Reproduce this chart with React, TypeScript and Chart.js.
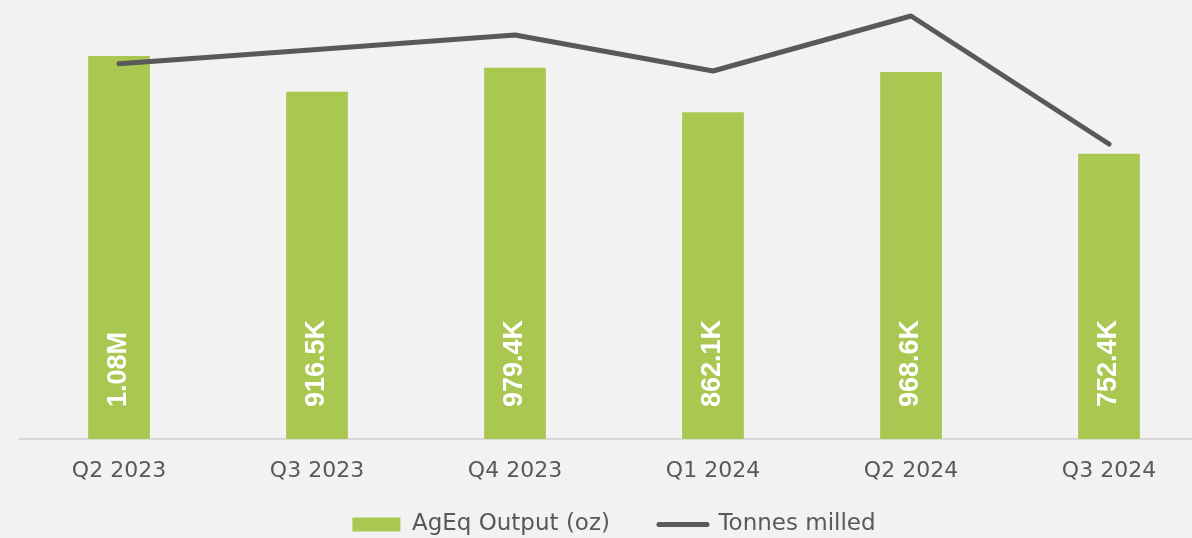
import { useEffect, useRef } from 'react';
import { Chart, registerables } from 'chart.js';

Chart.register(...registerables);

const categories = ['Q2 2023', 'Q3 2023', 'Q4 2023', 'Q1 2024', 'Q2 2024', 'Q3 2024'];
const agEqOutput = [1010500, 916500, 979400, 862100, 968600, 752400];
const agEqLabels = ['1.08M', '916.5K', '979.4K', '862.1K', '968.6K', '752.4K'];
const tonnesMilled = [437400, 454000, 470900, 428900, 493000, 343800];
const seriesNames = ['AgEq Output (oz)', 'Tonnes milled'];

const BAR_COLOR = '#aac851';
const LINE_COLOR = '#595959';
const TEXT_COLOR = '#595959';

const barLabelPlugin = {
  id: 'barLabels',
  afterLayout(chart: any) {
    // let the x-axis tick labels draw below the (shortened) axis box without being clipped
    const s = chart.scales.x;
    s.bottom = chart.height;
    s.height = s.bottom - s.top;
  },
  afterDatasetsDraw(chart: any) {
    const meta = chart.getDatasetMeta(0);
    const ctx = chart.ctx;
    const base = chart.scales.y.getPixelForValue(0);
    ctx.save();
    ctx.fillStyle = '#ffffff';
    ctx.font = 'bold 27px "Liberation Sans", Arial, sans-serif';
    ctx.textAlign = 'left';
    ctx.textBaseline = 'middle';
    meta.data.forEach((el: any, i: number) => {
      ctx.save();
      ctx.translate(el.x, base - 32);
      ctx.rotate(-Math.PI / 2);
      ctx.fillText(agEqLabels[i], 0, 0);
      ctx.restore();
    });
    ctx.restore();
  },
};

export default function App() {
  const ref = useRef<HTMLCanvasElement | null>(null);

  useEffect(() => {
    if (!ref.current) return;
    const chart = new Chart(ref.current, {
      type: 'bar',
      data: {
        labels: categories,
        datasets: [
          {
            type: 'bar',
            label: seriesNames[0],
            data: agEqOutput,
            backgroundColor: BAR_COLOR,
            borderWidth: 0,
            categoryPercentage: 1,
            barPercentage: 0.312,
            yAxisID: 'y',
            order: 2,
          } as any,
          {
            type: 'line',
            label: seriesNames[1],
            data: tonnesMilled,
            borderColor: LINE_COLOR,
            backgroundColor: LINE_COLOR,
            borderWidth: 5,
            borderCapStyle: 'round',
            borderJoinStyle: 'round',
            pointRadius: 0,
            pointHoverRadius: 0,
            tension: 0,
            clip: false,
            yAxisID: 'y1',
            order: 1,
          } as any,
        ],
      },
      options: {
        animation: false,
        responsive: true,
        maintainAspectRatio: false,
        layout: { padding: { top: 10, left: 20, right: 2, bottom: 0 } },
        scales: {
          x: {
            offset: true,
            grid: { display: false, drawTicks: false },
            border: { display: true, color: '#d9d9d9', width: 2 },
            ticks: {
              color: TEXT_COLOR,
              padding: 19,
              font: { family: '"DejaVu Sans", sans-serif', size: 22 },
              maxRotation: 0,
              autoSkip: false,
            },
            afterFit: (scale: any) => {
              scale.height = 25;
            },
          },
          y: {
            display: false,
            min: 0,
            max: 1131900,
          },
          y1: {
            display: false,
            min: 0,
            max: 500000,
          },
        },
        plugins: {
          tooltip: { enabled: false },
          legend: {
            display: true,
            position: 'bottom',
            labels: {
              color: TEXT_COLOR,
              font: { family: '"DejaVu Sans", sans-serif', size: 23 },
              usePointStyle: true,
              pointStyleWidth: 48,
              boxHeight: 14,
              padding: 49,
              generateLabels: (c: any) => {
                const items = Chart.defaults.plugins.legend.labels.generateLabels(c);
                items.forEach((it: any) => {
                  if (it.datasetIndex === 1) {
                    it.pointStyle = 'line';
                    it.lineWidth = 5;
                    it.lineCap = 'round';
                    it.strokeStyle = LINE_COLOR;
                    it.fillStyle = LINE_COLOR;
                  } else {
                    it.pointStyle = 'rect';
                    it.lineWidth = 0;
                    it.fillStyle = BAR_COLOR;
                    it.strokeStyle = BAR_COLOR;
                  }
                });
                return items.sort((a: any, b: any) => a.datasetIndex - b.datasetIndex);
              },
            },
          },
        },
      },
      plugins: [barLabelPlugin],
    } as any);
    return () => chart.destroy();
  }, []);

  return (
    <div
      style={{
        position: 'fixed',
        left: 0,
        top: 0,
        width: '100vw',
        height: '100vh',
        overflow: 'hidden',
        background: '#f2f2f2',
      }}
    >
      <div style={{ position: 'relative', width: 1210, height: 546 }}>
        <canvas ref={ref} />
      </div>
    </div>
  );
}
